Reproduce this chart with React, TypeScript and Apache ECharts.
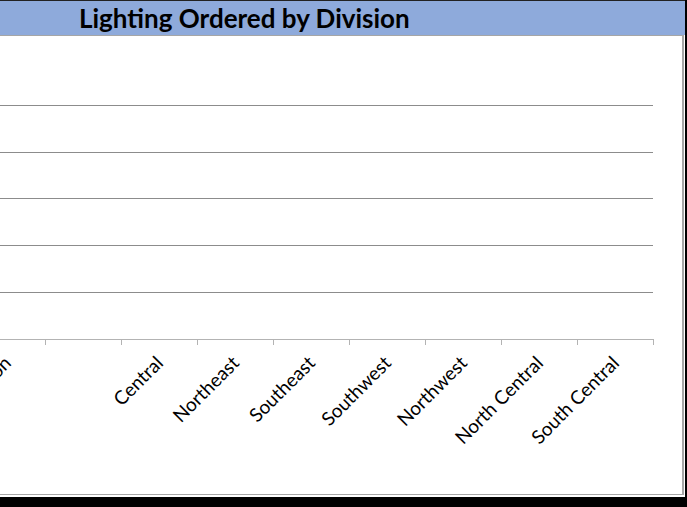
import React, { useEffect, useRef } from "react";
import * as echarts from "echarts";

const categories = ["Division", "", "Central", "Northeast", "Southeast", "Southwest", "Northwest", "North Central", "South Central"];
const lightingOrdered = [0, 0, 0, 0, 0, 0, 0, 0, 0];
const yTicks = [0, 0.2, 0.4, 0.6, 0.8, 1];
const titleText = "Lighting Ordered by Division";

const SHIFT = 40;

export default function App() {
  const ref = useRef<HTMLDivElement>(null);
  useEffect(() => {
    const chart = echarts.init(ref.current!, null, { renderer: "svg" });
    chart.setOption({
      animation: false,
      backgroundColor: "#ffffff",
      grid: { left: SHIFT - 31, right: 34, top: 105, bottom: 168, containLabel: false, outerBoundsMode: "none" },
      xAxis: {
        type: "category",
        data: categories,
        axisLine: { lineStyle: { color: "#b3b3b3", width: 1 } },
        axisTick: { show: true, length: 6, lineStyle: { color: "#b3b3b3" } },
        axisLabel: {
          rotate: 45,
          interval: 0,
          margin: 20,
          color: "#000000",
          fontFamily: "Lato, 'Open Sans', sans-serif",
          fontSize: 19,
        },
      },
      yAxis: {
        type: "value",
        min: yTicks[0],
        max: yTicks[yTicks.length - 1],
        interval: 0.2,
        axisLabel: { show: false },
        axisLine: { show: false },
        axisTick: { show: false },
        splitLine: { lineStyle: { color: "#8c8c8c", width: 1 } },
      },
      series: [
        {
          type: "bar",
          name: "Lighting Ordered",
          data: lightingOrdered,
          itemStyle: { color: "#4472c4" },
        },
      ],
      graphic: [
        { type: "rect", shape: { x: 0, y: 0, width: SHIFT + 685, height: 35 }, style: { fill: "#8eaadb" }, silent: true },
        { type: "rect", shape: { x: 0, y: 0, width: SHIFT + 687, height: 1 }, style: { fill: "#222222" }, silent: true },
        { type: "rect", shape: { x: 0, y: 35, width: SHIFT + 684, height: 1 }, style: { fill: "#a6a6a6" }, silent: true },
        { type: "rect", shape: { x: SHIFT + 682, y: 36, width: 2, height: 459 }, style: { fill: "#a6a6a6" }, silent: true },
        { type: "rect", shape: { x: 0, y: 494, width: SHIFT + 684, height: 1 }, style: { fill: "#a6a6a6" }, silent: true },
        { type: "rect", shape: { x: SHIFT + 685, y: 0, width: 2, height: 507 }, style: { fill: "#000000" }, silent: true },
        { type: "rect", shape: { x: 0, y: 497, width: SHIFT + 687, height: 10 }, style: { fill: "#000000" }, silent: true },
        {
          type: "text",
          x: SHIFT + 79,
          y: 18,
          style: {
            text: titleText,
            fill: "#000000",
            font: "bold 26px Lato, 'Open Sans', sans-serif",
            textAlign: "left",
            textVerticalAlign: "middle",
          },
          silent: true,
        },
      ],
    });
    return () => chart.dispose();
  }, []);
  return <div ref={ref} style={{ position: "fixed", left: -SHIFT, top: 0, width: 687 + SHIFT, height: 507 }} />;
}
